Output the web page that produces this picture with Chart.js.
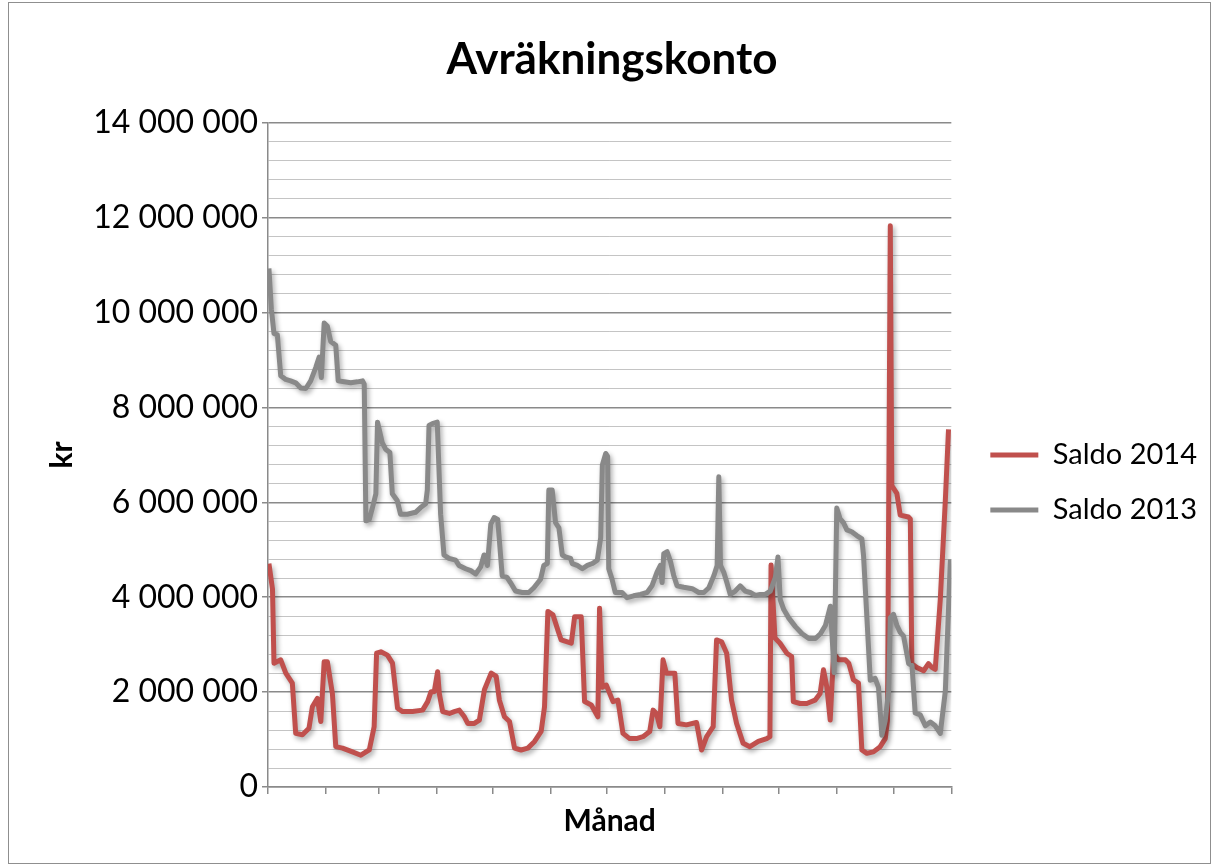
<!DOCTYPE html>
<html lang="sv">
<head>
<meta charset="utf-8">
<title>Avräkningskonto</title>
<script src="https://cdn.jsdelivr.net/npm/chart.js@4.4.1/dist/chart.umd.min.js"></script>
<style>
  html, body { margin: 0; padding: 0; background: #ffffff; }
  #wrap { position: relative; width: 1219px; height: 867px; }
</style>
</head>
<body>
<div id="wrap"><canvas id="chart" width="1219" height="867"></canvas></div>
<script>
// Day-of-year where each month begins (x-axis tick marks)
const monthStarts = [0, 31, 59, 90, 120, 151, 181, 212, 243, 273, 304, 334, 365];

// Saldo 2014: day of year and balance in kr
const days2014 = [
  0.5, 2.4, 3.2, 6.8, 9.5, 13.0, 14.8, 18.4, 21.9, 23.7,
  26.4, 28.2, 30.0, 31.7, 34.4, 36.2, 39.8, 45.1, 49.6, 54.1,
  56.7, 58.0, 60.3, 63.8, 66.5, 69.2, 71.9, 77.2, 82.6, 85.3,
  87.1, 88.8, 90.6, 91.5, 93.3, 96.9, 99.5, 102.2, 104.9, 106.7,
  110.2, 112.9, 115.6, 119.2, 121.9, 123.6, 126.3, 129.0, 131.7, 135.2,
  138.8, 142.4, 145.9, 147.7, 149.5, 152.2, 154.8, 156.6, 162.0, 163.8,
  167.3, 169.1, 172.7, 176.2, 177.1, 178.5, 180.7, 184.3, 186.9, 189.6,
  193.2, 196.8, 200.3, 203.9, 205.7, 207.5, 209.3, 211.0, 212.8, 217.3,
  219.0, 223.5, 228.9, 231.6, 234.3, 237.8, 239.6, 242.3, 245.0, 247.6,
  250.3, 253.8, 257.4, 261.9, 266.4, 268.1, 268.7, 270.8, 273.5, 277.1,
  279.7, 280.6, 284.2, 287.8, 292.2, 294.9, 296.7, 298.5, 300.3, 302.1,
  304.8, 308.4, 310.2, 312.7, 315.4, 317.2, 319.9, 323.4, 327.0, 329.7,
  330.9, 332.4, 333.2, 335.9, 337.7, 342.1, 343.1, 343.9, 346.6, 350.2,
  352.8, 354.6, 356.4, 359.1, 361.8, 363.5
];
const saldo2014 = [
  4710000, 4170000, 2610000, 2680000, 2400000, 2190000, 1130000, 1100000, 1240000, 1690000,
  1870000, 1380000, 2640000, 2640000, 1970000, 850000, 820000, 740000, 670000, 780000,
  1270000, 2820000, 2850000, 2780000, 2610000, 1660000, 1590000, 1590000, 1620000, 1800000,
  2010000, 2010000, 2430000, 1970000, 1590000, 1550000, 1590000, 1620000, 1480000, 1340000,
  1340000, 1410000, 2050000, 2400000, 2330000, 1830000, 1480000, 1380000, 820000, 780000,
  820000, 960000, 1170000, 1690000, 3700000, 3630000, 3310000, 3100000, 3030000, 3590000,
  3590000, 1800000, 1730000, 1480000, 3770000, 2100000, 2150000, 1800000, 1830000, 1130000,
  1020000, 1020000, 1060000, 1170000, 1620000, 1550000, 1270000, 2680000, 2400000, 2400000,
  1340000, 1310000, 1360000, 780000, 1060000, 1270000, 3100000, 3060000, 2820000, 1830000,
  1340000, 920000, 850000, 960000, 1020000, 1060000, 4680000, 3140000, 3030000, 2820000,
  2750000, 1800000, 1760000, 1760000, 1830000, 1970000, 2470000, 2110000, 1410000, 2820000,
  2680000, 2680000, 2610000, 2260000, 2190000, 780000, 710000, 740000, 850000, 1020000,
  1410000, 11830000, 6350000, 6190000, 5730000, 5690000, 5650000, 2600000, 2520000, 2450000,
  2600000, 2520000, 2480000, 3950000, 6040000, 7540000
];

// Saldo 2013: day of year and balance in kr
const days2013 = [
  0.5, 1.8, 3.2, 5.0, 6.8, 9.5, 12.1, 14.8, 17.5, 20.2,
  22.8, 25.5, 27.3, 28.5, 30.0, 31.7, 33.5, 36.2, 37.5, 40.7,
  44.2, 47.8, 50.5, 51.4, 52.3, 54.1, 55.8, 57.6, 58.5, 61.0,
  62.8, 65.1, 66.4, 69.0, 70.8, 74.4, 78.8, 81.5, 84.2, 85.1,
  86.0, 87.8, 90.4, 92.2, 94.0, 96.7, 100.2, 102.0, 105.6, 108.3,
  110.9, 113.6, 115.4, 117.2, 119.0, 120.8, 122.7, 125.1, 127.7, 129.5,
  132.2, 135.8, 139.3, 142.0, 145.6, 147.3, 149.2, 150.0, 151.8, 153.6,
  155.4, 157.2, 158.9, 161.6, 162.5, 165.2, 167.9, 170.6, 173.2, 175.9,
  177.7, 178.6, 180.4, 181.4, 182.0, 183.7, 185.5, 189.1, 191.8, 195.3,
  198.9, 202.5, 205.1, 207.8, 209.6, 210.5, 211.4, 213.2, 215.0, 216.7,
  218.5, 222.1, 226.6, 230.1, 232.8, 235.5, 238.2, 239.9, 240.8, 241.7,
  243.4, 245.1, 246.9, 249.6, 252.2, 254.9, 257.6, 260.3, 262.9, 265.6,
  268.3, 271.0, 272.4, 273.6, 275.5, 278.2, 281.7, 285.3, 288.9, 292.4,
  295.1, 297.8, 300.4, 302.4, 303.8, 305.6, 307.4, 309.2, 311.8, 314.5,
  317.2, 318.1, 319.9, 321.7, 324.3, 326.1, 327.9, 329.7, 331.5, 332.4,
  334.1, 335.9, 337.7, 339.5, 342.2, 344.0, 345.7, 348.4, 351.1, 353.8,
  356.4, 359.1, 361.8, 364.5
];
const saldo2013 = [
  10930000, 10070000, 9560000, 9530000, 8670000, 8590000, 8560000, 8520000, 8410000, 8400000,
  8560000, 8840000, 9060000, 8630000, 9780000, 9710000, 9390000, 9310000, 8560000, 8540000,
  8520000, 8540000, 8560000, 8490000, 5610000, 5640000, 5890000, 6180000, 7690000, 7260000,
  7120000, 7050000, 6180000, 6040000, 5750000, 5750000, 5790000, 5890000, 5970000, 6260000,
  7620000, 7660000, 7690000, 5750000, 4890000, 4820000, 4780000, 4670000, 4600000, 4560000,
  4490000, 4640000, 4890000, 4670000, 5540000, 5680000, 5640000, 4450000, 4420000, 4310000,
  4130000, 4100000, 4100000, 4200000, 4380000, 4670000, 4710000, 6260000, 6260000, 5570000,
  5460000, 4890000, 4850000, 4820000, 4710000, 4670000, 4600000, 4670000, 4710000, 4780000,
  5250000, 6790000, 7030000, 6970000, 4600000, 4390000, 4100000, 4100000, 3990000, 4030000,
  4060000, 4100000, 4240000, 4530000, 4670000, 4310000, 4920000, 4960000, 4750000, 4460000,
  4240000, 4210000, 4180000, 4100000, 4100000, 4200000, 4460000, 4670000, 6540000, 4670000,
  4530000, 4310000, 4060000, 4130000, 4240000, 4130000, 4100000, 4040000, 4060000, 4060000,
  4130000, 4420000, 4850000, 3950000, 3740000, 3560000, 3380000, 3230000, 3130000, 3130000,
  3230000, 3410000, 3810000, 2410000, 5880000, 5650000, 5570000, 5420000, 5380000, 5300000,
  5230000, 4880000, 3570000, 2250000, 2290000, 2100000, 1090000, 1400000, 2020000, 3570000,
  3640000, 3410000, 3260000, 3180000, 2600000, 2560000, 1560000, 1520000, 1290000, 1370000,
  1290000, 1130000, 2020000, 4800000
];

const seriesLabels = ['Saldo 2014', 'Saldo 2013'];
const yMax = 14000000;
const yMinorStep = 400000;
const yMajorStep = 2000000;

const RED = '#C0504D';
const GREY = '#898989';
const AXIS = '#8a8a8a';
const MINOR = '#c4c4c4';
const FONT = 'Lato, "Open Sans", "Liberation Sans", sans-serif';

function formatKr(v) {
  return String(v).replace(/\B(?=(\d{3})+(?!\d))/g, ' ');
}
function isMajor(ctx) {
  return ctx.tick && ctx.tick.value % yMajorStep === 0;
}

// White chart background with a thin frame
const chartFrame = {
  id: 'chartFrame',
  beforeDraw(chart) {
    const c = chart.ctx;
    c.save();
    c.fillStyle = '#ffffff';
    c.fillRect(0, 0, chart.width, chart.height);
    c.strokeStyle = '#8f8f8f';
    c.lineWidth = 1;
    c.strokeRect(8.5, 2.5, chart.width - 17, chart.height - 6);
    c.restore();
  }
};

// Soft drop shadow under the lines
const lineShadow = {
  id: 'lineShadow',
  beforeDatasetsDraw(chart) {
    const c = chart.ctx;
    c.save();
    c.shadowColor = 'rgba(0,0,0,0.33)';
    c.shadowBlur = 5;
    c.shadowOffsetX = 2;
    c.shadowOffsetY = 3;
  },
  afterDatasetsDraw(chart) {
    chart.ctx.restore();
  }
};

// Place the legend entries beside the plot, centred on its middle,
// and nudge the title a little to the right
const legendPlace = {
  id: 'legendPlace',
  afterLayout(chart) {
    const L = chart.legend;
    const area = chart.chartArea;
    if (L) {
      const pad = L.options.labels.padding;
      const fs = L.options.labels.font.size;
      const w = L.width, h = L.height;
      const left = area.right + 39 - pad;
      const top = (area.top + area.bottom) / 2 - fs / 2 - pad;
      L.left = left; L.right = left + w;
      L.top = top; L.bottom = top + h;
    }
    const T = chart.titleBlock;
    if (T) { T.left += 10; T.right += 10; }
  }
};

const ctx = document.getElementById('chart').getContext('2d');
new Chart(ctx, {
  type: 'line',
  data: {
    datasets: [
      {
        label: seriesLabels[0],
        data: days2014.map((d, i) => ({ x: d, y: saldo2014[i] })),
        borderColor: RED,
        backgroundColor: RED,
        borderWidth: 5,
        pointRadius: 0,
        tension: 0,
        borderJoinStyle: 'round',
        order: 1
      },
      {
        label: seriesLabels[1],
        data: days2013.map((d, i) => ({ x: d, y: saldo2013[i] })),
        borderColor: GREY,
        backgroundColor: GREY,
        borderWidth: 5,
        pointRadius: 0,
        tension: 0,
        borderJoinStyle: 'round',
        order: 0
      }
    ]
  },
  options: {
    responsive: false,
    animation: false,
    devicePixelRatio: 1,
    layout: { padding: { left: 10, right: 25, top: 0, bottom: 6 } },
    plugins: {
      title: {
        display: true,
        text: 'Avräkningskonto',
        color: '#000000',
        font: { family: FONT, size: 44, weight: 'bold' },
        padding: { top: 33, bottom: 37 }
      },
      legend: {
        position: 'right',
        align: 'start',
        labels: {
          boxWidth: 48,
          boxHeight: 5,
          padding: 26,
          color: '#000000',
          font: { family: FONT, size: 29 },
          sort: (a, b) => a.datasetIndex - b.datasetIndex,
          generateLabels: (chart) =>
            Chart.defaults.plugins.legend.labels.generateLabels(chart)
              .map(item => Object.assign(item, { lineWidth: 0 }))
        }
      },
      tooltip: { enabled: false }
    },
    scales: {
      x: {
        type: 'linear',
        min: 0,
        max: 365,
        afterBuildTicks: (axis) => { axis.ticks = monthStarts.map(v => ({ value: v })); },
        afterFit: (axis) => { axis.height = 74; },
        ticks: { display: false },
        grid: { drawOnChartArea: false, drawTicks: true, tickLength: 7, color: AXIS, lineWidth: 1.5 },
        border: { color: AXIS, width: 1.5 },
        title: {
          display: true,
          text: 'Månad',
          color: '#000000',
          font: { family: FONT, size: 30, weight: 'bold' },
          padding: { top: 0, bottom: 22 }
        }
      },
      y: {
        min: 0,
        max: yMax,
        afterFit: (axis) => { axis.width = 258; },
        ticks: {
          stepSize: yMinorStep,
          autoSkip: false,
          padding: 4,
          color: '#000000',
          font: { family: FONT, size: 32 },
          callback: (v) => (v % yMajorStep === 0 ? formatKr(v) : '')
        },
        grid: {
          color: (c) => (isMajor(c) ? AXIS : MINOR),
          lineWidth: (c) => (isMajor(c) ? 1.5 : 1),
          tickColor: (c) => (isMajor(c) ? AXIS : 'rgba(0,0,0,0)'),
          tickLength: 6
        },
        border: { color: AXIS, width: 1.5 },
        title: {
          display: true,
          text: 'kr',
          color: '#000000',
          font: { family: FONT, size: 30, weight: 'bold' },
          padding: { top: 34, bottom: 0 }
        }
      }
    }
  },
  plugins: [chartFrame, lineShadow, legendPlace]
});
</script>
</body>
</html>
